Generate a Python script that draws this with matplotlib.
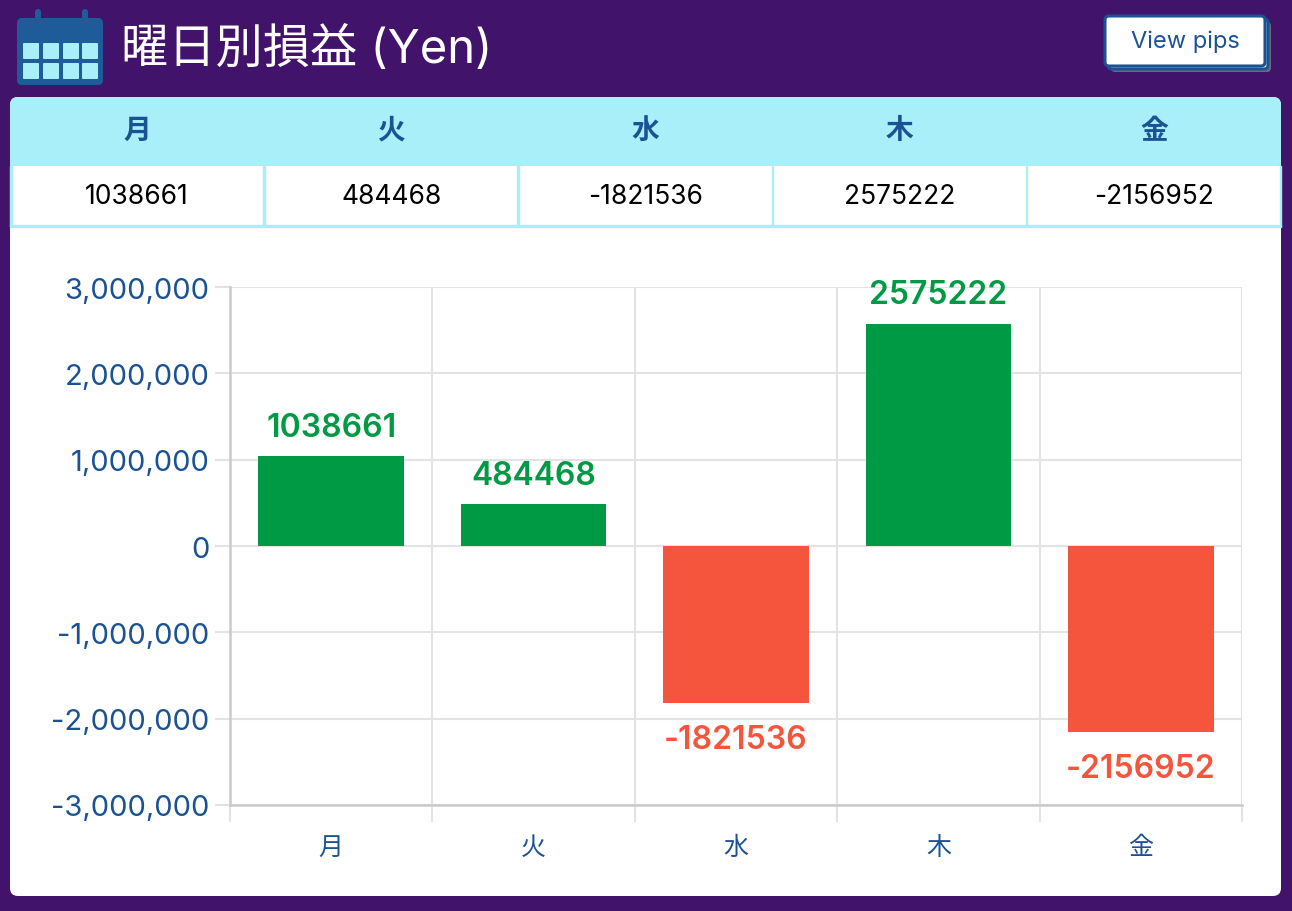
import numpy as np
import matplotlib
matplotlib.use("Agg")
import matplotlib.pyplot as plt
from matplotlib.patches import FancyBboxPatch, Rectangle
from matplotlib.transforms import IdentityTransform
from matplotlib.ticker import FuncFormatter, FixedLocator

FONTS = ["Inter", "Noto Sans CJK JP", "DejaVu Sans"]
plt.rcParams["font.family"] = FONTS

# data
DAYS = ["月", "火", "水", "木", "金"]
PROFIT = [1038661, 484468, -1821536, 2575222, -2156952]
Y_TICKS = [-3000000, -2000000, -1000000, 0, 1000000, 2000000, 3000000]
TITLE = "曜日別損益 (Yen)"
BUTTON = "View pips"

W, H = 1292, 912
BG = "#42136a"
CYAN = "#a8effa"
NAVY = "#1a5293"
GREEN = "#009a44"
RED = "#f5553c"
GRID = "#e3e3e3"
AXIS = "#cacaca"

fig = plt.figure(figsize=(W / 100, H / 100), dpi=100, facecolor=BG)
px = IdentityTransform()


def box(x0, y0, x1, y1, color, r=0, ec="none", lw=0, z=1):
    # pixel coords measured from top-left
    p = FancyBboxPatch((x0, H - y1), x1 - x0, y1 - y0,
                       boxstyle=f"round,pad=0,rounding_size={r}" if r else "square,pad=0",
                       facecolor=color, edgecolor=ec, linewidth=lw,
                       transform=px, zorder=z)
    fig.add_artist(p)
    return p


def txt(x, y, s, **kw):
    fig.text(x / W, 1 - y / H, s, **kw)


# calendar icon
box(17, 19, 103, 86, "#1f5b99", r=5)
for tx in (35, 82):
    box(tx, 10, tx + 6, 24, "#1f5b99", r=3)
for cy in (44, 64):
    for cx in (23, 43, 63, 82):
        box(cx, cy, cx + 16, cy + 16, CYAN, r=1, z=2)

txt(121, 50, TITLE, color="white", fontsize=34, va="center", ha="left")

# button
box(1111, 23, 1271, 73, "#6b6b78", r=4)
box(1108, 20, 1268, 70, "white", r=4, ec=NAVY, lw=2.2)
box(1105, 17, 1265, 67, "white", r=4, ec=NAVY, lw=2.2, z=3)
txt(1185, 42, BUTTON, color=NAVY, fontsize=17, ha="center", va="center",
    zorder=4)

# card + table
box(10, 98, 1281, 897, "white", r=8)
box(10, 98, 1281, 180, CYAN, r=8, z=2)
box(11, 167, 1280, 227, "white", z=3)
col_w = (1281 - 10) / len(DAYS)
for i, (d, v) in enumerate(zip(DAYS, PROFIT)):
    cx = 10 + col_w * (i + 0.5)
    txt(cx, 132, d, color=NAVY, fontsize=20, fontweight="bold",
        ha="center", va="center", zorder=5)
    txt(cx, 197, str(v), color="black", fontsize=19,
        ha="center", va="center", zorder=5)
    if i > 0:
        xb = 10 + col_w * i
        fig.add_artist(Rectangle((xb - 1, H - 227), 1.5, 60, color=CYAN,
                                 transform=px, zorder=4))
fig.add_artist(Rectangle((10, H - 228), 1271, 2, color=CYAN, transform=px, zorder=4))
fig.add_artist(Rectangle((10, H - 227), 1.5, 60, color=CYAN, transform=px, zorder=4))
fig.add_artist(Rectangle((1279.5, H - 227), 1.5, 60, color=CYAN, transform=px, zorder=4))

# chart
ax = fig.add_axes([230 / W, (H - 806) / H, (1242 - 230) / W, (806 - 288) / H])
ax.set_zorder(10)
ax.set_facecolor("none")
x = np.arange(len(DAYS))
colors = [GREEN if v >= 0 else RED for v in PROFIT]
ax.bar(x, PROFIT, width=0.72, color=colors, zorder=3)

for xi, v, c in zip(x, PROFIT, colors):
    off = 21 if v >= 0 else -26
    ax.annotate(str(v), (xi, v), xytext=(0, off), textcoords="offset points",
                ha="center", va="center", color=c, fontsize=23,
                fontweight="semibold", zorder=4)

ax.set_xlim(-0.5, len(DAYS) - 0.5)
ax.set_ylim(Y_TICKS[0], Y_TICKS[-1])
ax.set_yticks(Y_TICKS)
ax.yaxis.set_major_formatter(FuncFormatter(lambda v, _: f"{int(v):,}"))
ax.set_xticks(x)
ax.set_xticklabels(DAYS)
ax.xaxis.set_minor_locator(FixedLocator(np.arange(-0.5, len(DAYS), 1.0)))

ax.grid(True, which="major", axis="y", color=GRID, linewidth=1.5, zorder=0)
ax.grid(True, which="minor", axis="x", color=GRID, linewidth=1.5, zorder=0)

ax.tick_params(axis="y", which="major", length=11, width=1.5, color=GRID,
               labelcolor=NAVY, labelsize=21, pad=4)
ax.tick_params(axis="x", which="major", length=0, labelcolor=NAVY,
               labelsize=18, pad=22)
ax.tick_params(axis="x", which="minor", length=12, width=1.5, color=GRID)

for name in ("top", "right"):
    ax.spines[name].set_visible(False)
for name in ("left", "bottom"):
    ax.spines[name].set_color(AXIS)
    ax.spines[name].set_linewidth(1.8)

fig.savefig("out.png", dpi=100, facecolor=BG)
